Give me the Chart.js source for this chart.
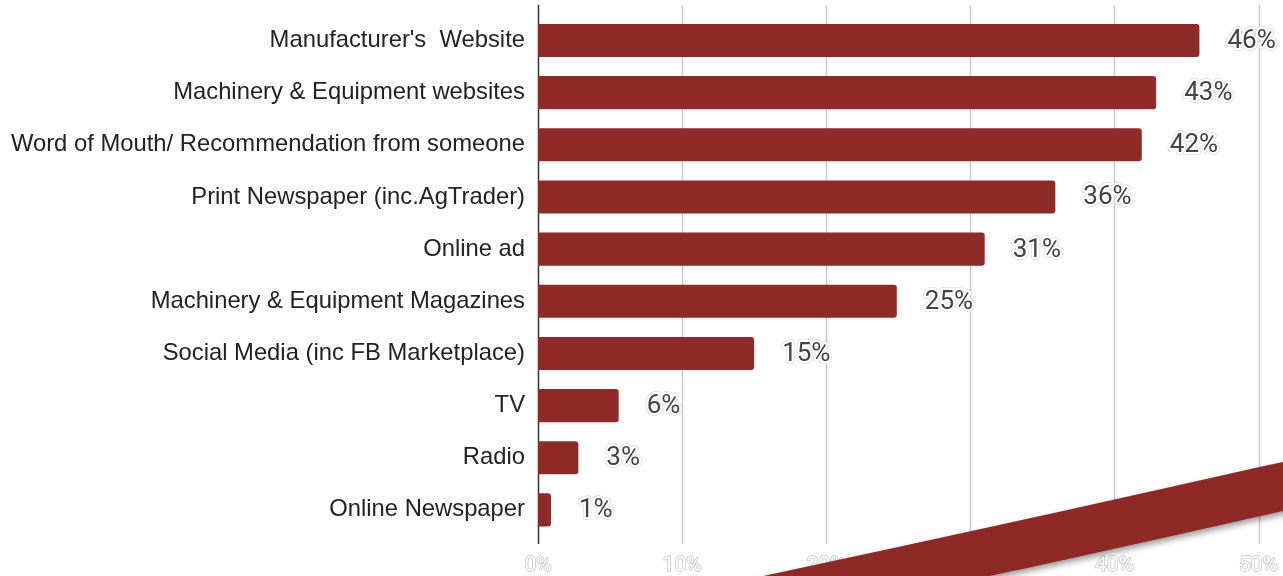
<!DOCTYPE html>
<html>
<head>
<meta charset="utf-8">
<script src="https://cdn.jsdelivr.net/npm/chart.js@4/dist/chart.umd.min.js"></script>
<style>
  html, body { margin: 0; padding: 0; background: #ffffff; }
  #wrap { position: relative; width: 1283px; height: 576px; overflow: hidden; }
  #chart { position: absolute; left: 0; top: 0; }
  #ribbon { position: absolute; left: 0; top: 0; pointer-events: none; }
</style>
</head>
<body>
<div id="wrap">
  <canvas id="chart" width="1283" height="576"></canvas>
  <svg id="ribbon" width="1283" height="576" viewBox="0 0 1283 576">
    <defs>
      <filter id="shade" x="-10%" y="-30%" width="120%" height="160%">
        <feDropShadow dx="-2" dy="4" stdDeviation="3" flood-color="#000" flood-opacity="0.4"/>
      </filter>
    </defs>
    <path d="M 697 590 Q 1000 526 1300 458 L 1300 507 Q 1120 548 926 590 Z" fill="#8e2a28" filter="url(#shade)"/>
  </svg>
</div>
<script>
// Sources consulted, share of respondents (%)
const categories = [
  "Manufacturer's  Website",
  "Machinery & Equipment websites",
  "Word of Mouth/ Recommendation from someone",
  "Print Newspaper (inc.AgTrader)",
  "Online ad",
  "Machinery & Equipment Magazines",
  "Social Media (inc FB Marketplace)",
  "TV",
  "Radio",
  "Online Newspaper"
];
const shares = [45.9, 42.9, 41.9, 35.9, 31.0, 24.9, 15.0, 5.6, 2.8, 0.9];
const axisTicks = [0, 10, 20, 30, 40, 50];

const barColor = '#8e2a28';

// Vertical grid lines and the zero axis, drawn a little past the bar band
const gridPlugin = {
  id: 'gridLines',
  beforeDatasetsDraw(chart) {
    const { ctx } = chart;
    const xs = chart.scales.x;
    const top = 5, bottom = 544;
    ctx.save();
    axisTicks.forEach(v => {
      if (v === 0) return;
      const px = Math.round(xs.getPixelForValue(v)) + 0.5;
      ctx.strokeStyle = '#c9c9c9';
      ctx.lineWidth = 1.5;
      ctx.beginPath();
      ctx.moveTo(px, top);
      ctx.lineTo(px, bottom);
      ctx.stroke();
    });
    const x0 = Math.round(xs.getPixelForValue(0)) + 0.5;
    ctx.strokeStyle = '#333333';
    ctx.lineWidth = 1.5;
    ctx.beginPath();
    ctx.moveTo(x0, top);
    ctx.lineTo(x0, bottom);
    ctx.stroke();
    ctx.restore();
  }
};

// Percentage labels beside each bar, with a light halo
const valueLabels = {
  id: 'valueLabels',
  afterDatasetsDraw(chart) {
    const { ctx } = chart;
    const meta = chart.getDatasetMeta(0);
    ctx.save();
    ctx.font = '26px Roboto, "Noto Sans", sans-serif';
    ctx.textAlign = 'left';
    ctx.textBaseline = 'middle';
    ctx.lineJoin = 'round';
    meta.data.forEach((bar, i) => {
      const text = Math.round(shares[i]) + '%';
      const x = bar.x + 28;
      const y = bar.y + 1;
      ctx.strokeStyle = '#dcdcdc';
      ctx.lineWidth = 6;
      ctx.strokeText(text, x, y);
      ctx.strokeStyle = '#ffffff';
      ctx.lineWidth = 4.5;
      ctx.strokeText(text, x, y);
      ctx.fillStyle = '#444444';
      ctx.fillText(text, x, y);
    });
    ctx.restore();
  }
};

new Chart(document.getElementById('chart'), {
  type: 'bar',
  data: {
    labels: categories,
    datasets: [{
      data: shares,
      backgroundColor: barColor,
      borderRadius: 3,
      borderSkipped: 'start',
      categoryPercentage: 1,
      barPercentage: 0.635
    }]
  },
  options: {
    indexAxis: 'y',
    responsive: false,
    animation: false,
    events: [],
    layout: { padding: { top: 14.4, right: 24.5, bottom: 0, left: 0 } },
    plugins: { legend: { display: false }, tooltip: { enabled: false } },
    scales: {
      x: {
        min: 0,
        max: 50,
        afterFit(s) { s.height = 40; s.paddingLeft = 0; s.paddingRight = 0; },
        afterBuildTicks(s) { s.ticks = axisTicks.map(v => ({ value: v })); },
        grid: { display: false, drawTicks: false },
        border: { display: false },
        ticks: {
          padding: 17,
          color: '#ffffff',
          textStrokeColor: '#c4c4c4',
          textStrokeWidth: 1.5,
          font: { family: 'Roboto, "Noto Sans", sans-serif', size: 21 },
          callback: v => v + '%'
        }
      },
      y: {
        afterFit(s) { s.width = 538; s.paddingTop = 0; s.paddingBottom = 0; },
        grid: { display: false, drawTicks: false },
        border: { display: false },
        ticks: {
          padding: 13,
          color: '#222222',
          font: { family: '"Liberation Sans", Arial, sans-serif', size: 23.8 }
        }
      }
    }
  },
  plugins: [gridPlugin, valueLabels]
});
</script>
</body>
</html>
